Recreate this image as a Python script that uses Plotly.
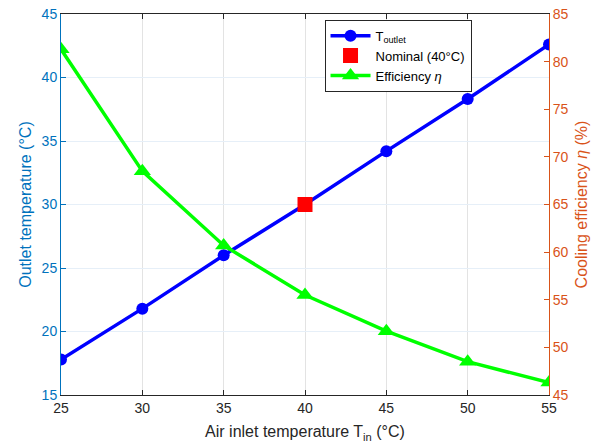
import plotly.graph_objects as go

t_in = [25, 30, 35, 40, 45, 50, 55]
t_outlet = [17.8, 21.8, 26.0, 30.0, 34.2, 38.3, 42.6]
efficiency = [81.3, 68.5, 60.7, 55.5, 51.7, 48.5, 46.3]
nominal_x = [40]
nominal_y = [30.0]

BLUE_AX = "#0072BD"
ORANGE_AX = "#D95319"
FONT = "Liberation Sans, Arial, sans-serif"

fig = go.Figure()
fig.add_trace(go.Scatter(
    x=t_in, y=t_outlet, mode="lines+markers", name="T<sub>outlet</sub>",
    line=dict(color="#0000FF", width=3.5),
    marker=dict(symbol="circle", size=12, color="#0000FF"),
    yaxis="y"))
fig.add_trace(go.Scatter(
    x=nominal_x, y=nominal_y, mode="markers", name="Nominal (40°C)",
    marker=dict(symbol="square", size=15, color="#FF0000"),
    yaxis="y"))
fig.add_trace(go.Scatter(
    x=t_in, y=efficiency, mode="lines+markers", name="Efficiency <i>η</i>",
    line=dict(color="#00FF00", width=3.5),
    marker=dict(symbol="triangle-up", size=15, color="#00FF00"),
    yaxis="y2"))

fig.update_layout(
    width=606, height=445,
    margin=dict(l=61, r=57, t=14, b=50),
    plot_bgcolor="white", paper_bgcolor="white",
    font=dict(family=FONT, size=14, color="#262626"),
    showlegend=True,
    legend=dict(
        x=0.54, y=0.985, xanchor="left", yanchor="top",
        bgcolor="white", bordercolor="#262626", borderwidth=1,
        font=dict(size=13, color="#000000"),
        tracegroupgap=0, itemwidth=40,
    ),
    xaxis=dict(
        range=[25, 55], tickvals=[25, 30, 35, 40, 45, 50, 55],
        title=dict(text="Air inlet temperature T<sub>in</sub> (°C)", font=dict(size=16, color="#262626"), standoff=11),
        showline=True, linecolor="#262626", linewidth=1, mirror="ticks",
        ticks="inside", ticklen=5, tickcolor="#262626",
        showgrid=True, gridcolor="#E3E3E3", gridwidth=1,
        zeroline=False, tickfont=dict(size=14, color="#262626"),
        automargin=False,
    ),
    yaxis=dict(
        range=[15, 45], tickvals=[15, 20, 25, 30, 35, 40, 45],
        title=dict(text="Outlet temperature (°C)", font=dict(size=16, color=BLUE_AX), standoff=6),
        showline=True, linecolor=BLUE_AX, linewidth=1,
        ticks="inside", ticklen=5, tickcolor=BLUE_AX,
        showgrid=True, gridcolor="#E6EFF8", gridwidth=1,
        zeroline=False, tickfont=dict(size=14, color=BLUE_AX),
        automargin=False,
    ),
    yaxis2=dict(
        range=[45, 85], tickvals=[45, 50, 55, 60, 65, 70, 75, 80, 85],
        overlaying="y", side="right",
        title=dict(text="Cooling efficiency <i>η</i> (%)", font=dict(size=16, color=ORANGE_AX), standoff=8),
        showline=True, linecolor=ORANGE_AX, linewidth=1,
        ticks="inside", ticklen=5, tickcolor=ORANGE_AX,
        showgrid=False, zeroline=False, tickfont=dict(size=14, color=ORANGE_AX),
        automargin=False,
    ),
)

fig.write_html("out.html")
